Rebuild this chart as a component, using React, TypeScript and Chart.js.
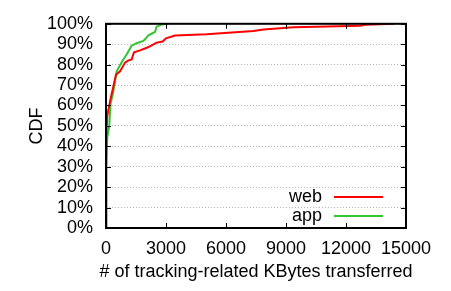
import React, { useEffect, useRef } from "react";
import { Chart, registerables } from "chart.js";

Chart.register(...registerables);

const xTicks = [0, 3000, 6000, 9000, 12000, 15000];
const yTicks = [0, 10, 20, 30, 40, 50, 60, 70, 80, 90, 100];

const webKB = [0, 0, 30, 65, 200, 500, 700, 950, 1100, 1280, 1400, 1700, 2100, 2530, 2830, 3000, 3450, 5030, 7370, 7870, 9370, 12700, 12950, 14400];
const webCDF = [0, 30, 45, 55, 62, 75, 76.7, 81, 82, 82.5, 86, 87, 88.5, 90.8, 91.3, 92.9, 94.3, 94.9, 96.5, 97.2, 98.3, 99, 99.5, 100];

const appKB = [0, 0, 20, 60, 160, 230, 350, 530, 780, 1030, 1280, 1530, 1870, 2000, 2120, 2450, 2530, 2780, 3120];
const appCDF = [0, 5, 30, 44, 50, 61, 66, 76.6, 81.2, 85, 89.3, 90.5, 91.6, 92.9, 94.4, 96, 98.6, 99.6, 100];

const seriesNames = ["web", "app"];
const seriesColors = ["#ff0000", "#33c433"];

const xTitle = "# of tracking-related KBytes transferred";
const yTitle = "CDF";

const FONT = "'Liberation Sans', Arial, Helvetica, sans-serif";

const decorPlugin = {
  id: "decor",
  afterDatasetsDraw(chart: any) {
    const { ctx, chartArea } = chart;
    const { left, right, top, bottom } = chartArea;
    const xs = chart.scales.x;
    const ys = chart.scales.y;
    ctx.save();
    ctx.strokeStyle = "#000";
    ctx.lineWidth = 1;
    const tl = 5;
    ctx.beginPath();
    yTicks.forEach((v) => {
      const y = Math.round(ys.getPixelForValue(v)) + 0.5;
      ctx.moveTo(left, y);
      ctx.lineTo(left + tl, y);
      ctx.moveTo(right, y);
      ctx.lineTo(right - tl, y);
    });
    xTicks.forEach((v) => {
      const x = Math.round(xs.getPixelForValue(v)) + 0.5;
      ctx.moveTo(x, bottom);
      ctx.lineTo(x, bottom - tl);
      ctx.moveTo(x, top);
      ctx.lineTo(x, top + tl);
    });
    ctx.stroke();
    ctx.lineWidth = 2;
    ctx.strokeRect(left, top, right - left, bottom - top);

    // legend
    ctx.font = `18px ${FONT}`;
    ctx.fillStyle = "#000";
    ctx.textAlign = "right";
    ctx.textBaseline = "middle";
    const ly = [197, 216];
    seriesNames.forEach((n, i) => {
      ctx.fillText(n, 322, ly[i]);
      ctx.strokeStyle = seriesColors[i];
      ctx.lineWidth = 2;
      ctx.beginPath();
      ctx.moveTo(334, ly[i]);
      ctx.lineTo(383, ly[i]);
      ctx.stroke();
    });

    // axis titles
    ctx.fillStyle = "#000";
    ctx.textAlign = "center";
    ctx.textBaseline = "middle";
    ctx.fillText(xTitle, (left + right) / 2, 272);
    ctx.translate(37, (top + bottom) / 2);
    ctx.rotate(-Math.PI / 2);
    ctx.fillText(yTitle, 0, 0);
    ctx.restore();
  },
};

export default function App() {
  const ref = useRef<HTMLCanvasElement>(null);
  useEffect(() => {
    if (!ref.current) return;
    Chart.defaults.font.family = FONT;
    const chart = new Chart(ref.current, {
      type: "line",
      data: {
        datasets: [
          {
            label: seriesNames[0],
            data: webKB.map((x, i) => ({ x, y: webCDF[i] })),
            borderColor: seriesColors[0],
            borderWidth: 2,
            pointRadius: 0,
            tension: 0,
            fill: false,
          },
          {
            label: seriesNames[1],
            data: appKB.map((x, i) => ({ x, y: appCDF[i] })),
            borderColor: seriesColors[1],
            borderWidth: 2,
            pointRadius: 0,
            tension: 0,
            fill: false,
          },
        ],
      },
      options: {
        animation: false,
        responsive: false,
        devicePixelRatio: 1,
        layout: { padding: { top: 13, right: 45, left: 0, bottom: 0 } },
        plugins: { legend: { display: false }, tooltip: { enabled: false } },
        scales: {
          x: {
            type: "linear",
            min: 0,
            max: 15000,
            afterBuildTicks: (s: any) => {
              s.ticks = xTicks.map((v) => ({ value: v }));
            },
            ticks: {
              font: { size: 18 },
              color: "#000",
              padding: 10,
              maxRotation: 0,
              autoSkip: false,
              callback: (v: any) => String(v),
            },
            grid: { display: false, drawTicks: false },
            border: { display: false },
            afterFit: (s: any) => {
              s.height = 63;
            },
          },
          y: {
            type: "linear",
            min: 0,
            max: 100,
            afterBuildTicks: (s: any) => {
              s.ticks = yTicks.map((v) => ({ value: v }));
            },
            ticks: {
              font: { size: 18 },
              color: "#000",
              padding: 13,
              autoSkip: false,
              callback: (v: any) => `${v}%`,
            },
            grid: { color: "#b4b4b4", lineWidth: 1, drawTicks: false },
            border: { display: false, dash: [1, 2] },
            afterFit: (s: any) => {
              s.width = 106;
            },
          },
        },
      },
      plugins: [decorPlugin],
    } as any);
    return () => chart.destroy();
  }, []);
  return (
    <div style={{ position: "fixed", left: 0, top: 0, width: 451, height: 291, background: "#fff" }}>
      <canvas ref={ref} width={451} height={291} style={{ display: "block" }} />
    </div>
  );
}
